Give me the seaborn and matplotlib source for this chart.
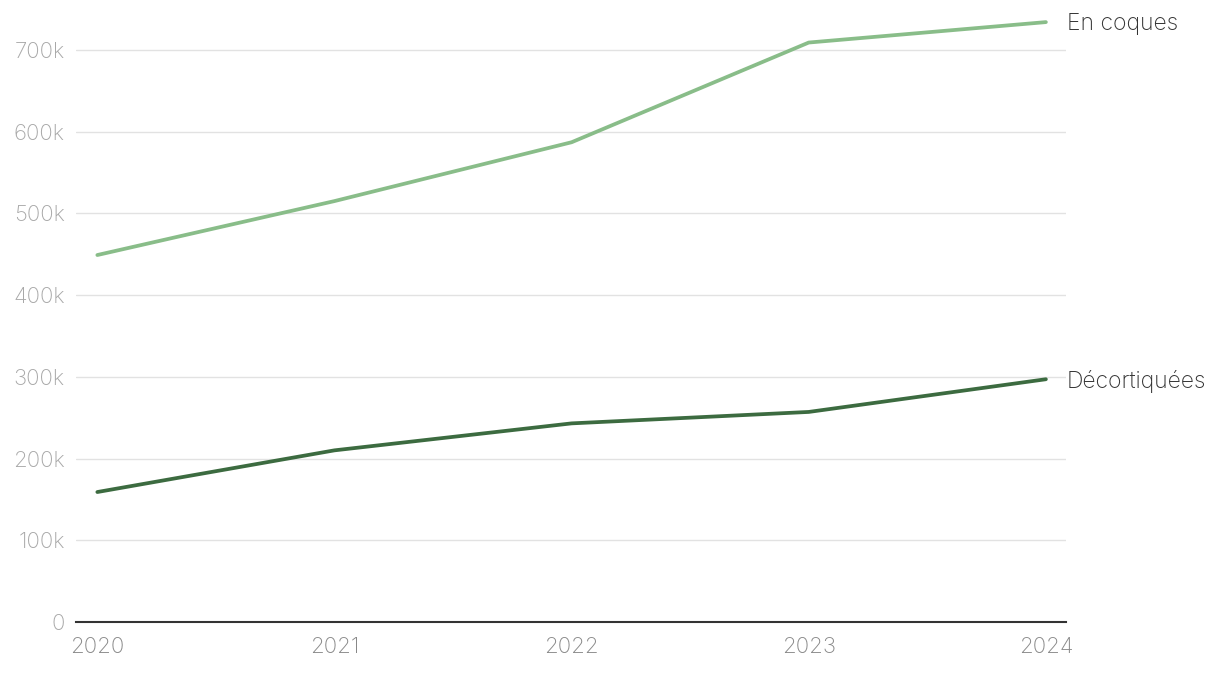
import matplotlib
matplotlib.use("Agg")
import matplotlib.pyplot as plt
import seaborn as sns
import pandas as pd
from matplotlib.ticker import FuncFormatter

# values (tonnes)
years = [2020, 2021, 2022, 2023, 2024]
en_coques = [449000, 515000, 587000, 709000, 734000]
decortiquees = [159000, 210000, 243000, 257000, 297000]
series_names = ["En coques", "Décortiquées"]
colors = ["#89bd89", "#3c6b40"]

df = pd.DataFrame({
    "year": years * 2,
    "value": en_coques + decortiquees,
    "series": [series_names[0]] * len(years) + [series_names[1]] * len(years),
})

sns.set_theme(style="white")
plt.rcParams["font.family"] = ["Inter", "DejaVu Sans"]
plt.rcParams["font.weight"] = "light"

fig = plt.figure(figsize=(12.2, 6.74), dpi=100)
ax = fig.add_axes([0.0623, 0.0772, 0.8115, 0.9094])

sns.lineplot(data=df, x="year", y="value", hue="series", palette=colors,
             hue_order=series_names, linewidth=2.7, ax=ax, legend=False)

ax.set_xlim(2019.91, 2024.085)
ax.set_ylim(0, 750000)
ax.set_yticks(range(0, 800000, 100000))
ax.yaxis.set_major_formatter(FuncFormatter(lambda v, _: "0" if v == 0 else f"{int(v / 1000)}k"))
ax.set_xticks(years)
ax.set_xlabel("")
ax.set_ylabel("")

ax.grid(axis="y", color="#e2e2e2", linewidth=1)
ax.set_axisbelow(True)
for side in ["top", "right", "left"]:
    ax.spines[side].set_visible(False)
ax.spines["bottom"].set_color("#333333")
ax.spines["bottom"].set_linewidth(1.5)
ax.spines["bottom"].set_zorder(3)

ax.tick_params(axis="y", length=0, pad=8, labelsize=16, labelcolor="#a8a8a8")
ax.tick_params(axis="x", length=0, pad=11, labelsize=16, labelcolor="#888888")

# end-of-line labels
for name, vals in zip(series_names, [en_coques, decortiquees]):
    ax.annotate(name, xy=(years[-1], vals[-1]), xytext=(15, -1.5), textcoords="offset points",
                fontsize=16.5, color="#333333", va="center", ha="left", annotation_clip=False)

fig.savefig("out.png", dpi=100)
plt.close(fig)
